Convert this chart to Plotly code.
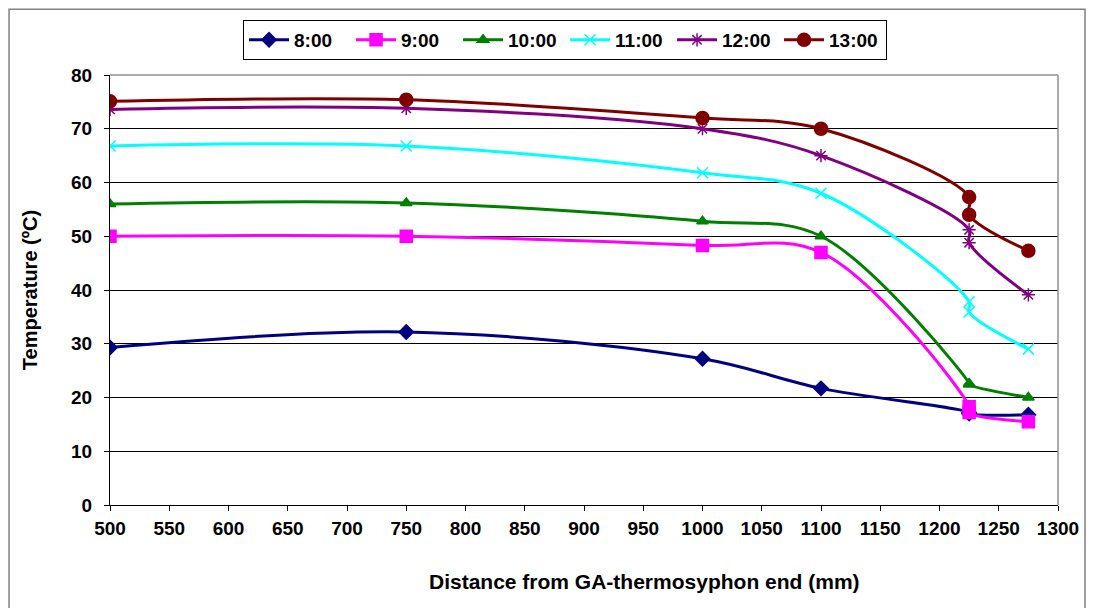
import plotly.graph_objects as go

distance_mm = [500, 750, 1000, 1100, 1225, 1225, 1275]
series_names = ["8:00", "9:00", "10:00", "11:00", "12:00", "13:00"]
temp_0800 = [29.3, 32.2, 27.2, 21.7, 17.2, 17.0, 16.8]
temp_0900 = [50.0, 50.0, 48.3, 47.0, 18.3, 17.2, 15.5]
temp_1000 = [56.0, 56.2, 52.8, 50.0, 22.6, 22.4, 20.0]
temp_1100 = [66.8, 66.8, 61.8, 58.0, 37.8, 35.9, 29.0]
temp_1200 = [73.6, 73.8, 70.0, 65.0, 51.2, 48.8, 39.1]
temp_1300 = [75.1, 75.4, 72.0, 70.0, 57.3, 54.0, 47.3]

all_temps = [temp_0800, temp_0900, temp_1000, temp_1100, temp_1200, temp_1300]
colors = ["#000080", "#FF00FF", "#008000", "#00FFFF", "#800080", "#800000"]
symbols = ["diamond", "square", "triangle-up", "x-thin-open", "asterisk-open", "circle"]
sizes = [11, 12, 10, 11, 11, 13]

fig = go.Figure()
for name, temps, c, s, sz in zip(series_names, all_temps, colors, symbols, sizes):
    fig.add_trace(go.Scatter(
        x=distance_mm, y=temps, name=name, mode="lines+markers",
        line=dict(color=c, width=3, shape="spline", smoothing=1.0),
        marker=dict(symbol=s, size=sz, color=c, line=dict(color=c, width=1.5)),
    ))

font_family = "Liberation Sans, Arial, sans-serif"
fig.update_layout(
    width=1100, height=608,
    margin=dict(l=110, r=42, t=75, b=103),
    paper_bgcolor="white", plot_bgcolor="white",
    font=dict(family=font_family, size=18, color="black"),
    showlegend=True,
    legend=dict(
        orientation="h", x=0.48, y=1.128, xanchor="center", yanchor="top",
        bordercolor="black", borderwidth=1, bgcolor="white",
        font=dict(family=font_family, size=19, color="black", weight="bold"),
        itemwidth=40, entrywidth=52,
    ),
    xaxis=dict(
        range=[500, 1300], tickmode="linear", tick0=500, dtick=50,
        showgrid=False, showline=True, linecolor="black", linewidth=1,
        ticks="outside", ticklen=5, tickcolor="black", ticklabelstandoff=1,
        tickfont=dict(family=font_family, size=19, color="black", weight="bold"),
        zeroline=False, mirror=False,
    ),
    yaxis=dict(
        range=[0, 80], tickmode="linear", tick0=0, dtick=10,
        showgrid=True, gridcolor="#000000", gridwidth=1,
        showline=True, linecolor="black", linewidth=1,
        ticks="outside", ticklen=5, tickcolor="black", ticklabelstandoff=8,
        tickfont=dict(family=font_family, size=19, color="black", weight="bold"),
        title=dict(text="Temperature (ºC)", standoff=28,
                   font=dict(family=font_family, size=20, color="black", weight="bold")),
        zeroline=False,
    ),
    annotations=[
        dict(text="Distance from GA-thermosyphon end (mm)", xref="paper", yref="paper",
             x=0.564, y=-0.179, xanchor="center", yanchor="middle", showarrow=False,
             font=dict(family=font_family, size=21, color="black", weight="bold")),
    ],
    shapes=[
        dict(type="line", xref="paper", yref="paper", x0=1, x1=1, y0=0, y1=1,
             line=dict(color="#909090", width=1.5)),
        dict(type="line", xref="paper", yref="paper", x0=0, x1=1, y0=1, y1=1,
             line=dict(color="#909090", width=1.5)),
        dict(type="rect", xref="paper", yref="paper", x0=-0.1065, x1=1.0285,
             y0=-0.25, y1=1.153, line=dict(color="#808080", width=1.5), layer="below"),
    ],
)

fig.write_html("out.html")
